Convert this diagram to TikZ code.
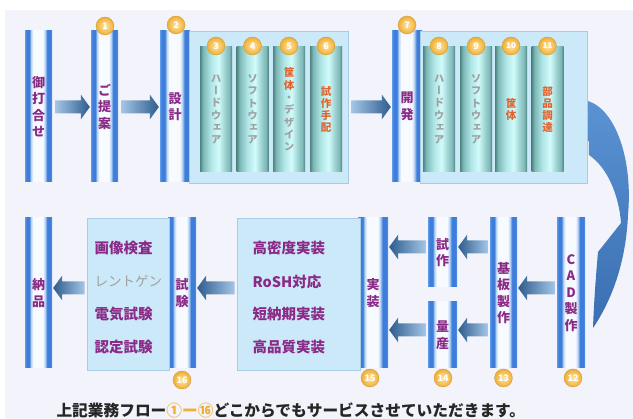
\documentclass[tikz,border=0pt]{standalone}
\usepackage{fontspec}
\setmainfont{Noto Sans CJK JP}
\newfontfamily\vjp[RawFeature=+vert]{Noto Sans CJK JP}
\usetikzlibrary{calc}

\definecolor{bgL}{HTML}{F3F4FB}
\definecolor{pbA}{HTML}{5C9AE8}
\definecolor{pbB}{HTML}{3F7DDA}
\definecolor{pbL}{HTML}{B4D3F6}
\definecolor{pw}{HTML}{F7FAFF}
\definecolor{cyD}{HTML}{4D8482}
\definecolor{cyM}{HTML}{7DB8B6}
\definecolor{cyN}{HTML}{B0E6E6}
\definecolor{cyL}{HTML}{D2FBFB}
\definecolor{cyK}{HTML}{9CD2D1}
\definecolor{boxF}{HTML}{CCE9F9}
\definecolor{boxD}{HTML}{A6CCE6}
\definecolor{tp}{HTML}{8A2A86}
\definecolor{tg}{HTML}{A0A0A0}
\definecolor{tr}{HTML}{E2632E}
\definecolor{orA}{HTML}{EFAE34}
\definecolor{orL}{HTML}{FFE6A8}
\definecolor{arL}{HTML}{A4C6E6}
\definecolor{arD}{HTML}{2E5C8E}
\definecolor{cvA}{HTML}{5A92D2}
\definecolor{cvB}{HTML}{3A6FB2}

\pgfdeclarehorizontalshading{pillarsh}{100bp}{color(0bp)=(pbA); color(25bp)=(pbA); color(28bp)=(pbB); color(33bp)=(pbB); color(36bp)=(pbL); color(40bp)=(pw); color(58bp)=(pw); color(62bp)=(pbL); color(66bp)=(pbB); color(72bp)=(pbB); color(75bp)=(pbA); color(100bp)=(pbA)}
\pgfdeclarehorizontalshading{cylsh}{100bp}{color(0bp)=(cyD); color(25bp)=(cyD); color(30bp)=(cyM); color(42bp)=(cyN); color(54bp)=(cyL); color(64bp)=(cyK); color(71bp)=(cyM); color(75bp)=(cyD); color(100bp)=(cyD)}

\tikzset{
  pillar/.style={shade, shading=pillarsh, inner sep=0pt, text=tp, align=center,
    font=\vjp\bfseries\fontsize{13}{16.5}\selectfont},
  cyl/.style={shade, shading=cylsh, inner sep=0pt, minimum width=32pt, minimum height=125pt,
    align=center, text=tg, font=\vjp\bfseries\fontsize{10.5}{12.3}\selectfont},
  bbox/.style={fill=boxF, draw=boxD, line width=0.8pt, inner sep=0pt},
  numc/.style={circle, inner sep=0pt, minimum size=18pt, inner color=orL, outer color=orA,
    draw=orA!85!black, line width=0.3pt, text=white, font=\bfseries\fontsize{9}{9}\selectfont},
  listt/.style={anchor=west, text=tp, font=\bfseries\fontsize{14.5}{14.5}\selectfont},
}

\newcommand\arrR[3]{%
  \path[left color=arL, right color=arD] let \p1=(#1.east), \p2=(#2.west), \p3=(0,#3) in
  (\x1+3pt,\y3+6.5pt) -- (\x2-10pt,\y3+6.5pt) -- (\x2-10pt,\y3+12.5pt) -- (\x2-1pt,\y3)
  -- (\x2-10pt,\y3-12.5pt) -- (\x2-10pt,\y3-6.5pt) -- (\x1+3pt,\y3-6.5pt) -- cycle;}
\newcommand\arrL[3]{%
  \path[left color=arD, right color=arL] let \p1=(#1.west), \p2=(#2.east), \p3=(0,#3) in
  (\x1-2pt,\y3+6.5pt) -- (\x2+10pt,\y3+6.5pt) -- (\x2+10pt,\y3+12.5pt) -- (\x2+1pt,\y3)
  -- (\x2+10pt,\y3-12.5pt) -- (\x2+10pt,\y3-6.5pt) -- (\x1-2pt,\y3-6.5pt) -- cycle;}

\begin{document}
\begin{tikzpicture}[x=1pt, y=-1pt]
\useasboundingbox (0,0) rectangle (633,419);
\fill[white] (0,0) rectangle (633,419);
\fill[bgL] (5,10) rectangle (633,419);

% ---------- top row ----------
\node[pillar, minimum width=27pt, minimum height=151pt] (p0) at (38.5,106.5) {御\\打\\合\\せ};
\node[pillar, minimum width=27pt, minimum height=151pt] (p1) at (104.5,106.5) {ご\\提\\案};
\node[pillar, minimum width=30pt, minimum height=151pt] (p2) at (175,106.5) {設\\計};
\node[bbox, minimum width=159pt, minimum height=152pt] (b1) at (268.5,107) {};
\node[cyl] (k3) at (216,109.5) {ハ\\ー\\ド\\ウ\\ェ\\ア};
\node[cyl] (k4) at (252.5,109.5) {ソ\\フ\\ト\\ウ\\ェ\\ア};
\node[cyl] (k5) at (289,109.5) {\textcolor{tr}{筐}\\\textcolor{tr}{体}\\・\\デ\\ザ\\イ\\ン};
\node[cyl, text=tr] (k6) at (326,109.5) {試\\作\\手\\配};

\node[pillar, minimum width=30pt, minimum height=151pt] (p7) at (407,106.5) {開\\発};
\node[bbox, minimum width=167pt, minimum height=152pt] (b2) at (503.5,107) {};
\node[cyl] (k8) at (439,109.5) {ハ\\ー\\ド\\ウ\\ェ\\ア};
\node[cyl] (k9) at (476,109.5) {ソ\\フ\\ト\\ウ\\ェ\\ア};
\node[cyl, text=tr] (k10) at (511,109.5) {筐\\体};
\node[cyl, text=tr] (k11) at (547.5,109.5) {部\\品\\調\\達};

\node[numc] (c1) at (105,26) {1};
\node[numc] (c2) at (176,25) {2};
\node[numc] (c3) at (216,46) {3};
\node[numc] (c4) at (252.5,46) {4};
\node[numc] (c5) at (289,46) {5};
\node[numc] (c6) at (326,46) {6};
\node[numc] (c7) at (407,25) {7};
\node[numc] (c8) at (439,46) {8};
\node[numc] (c9) at (476,46) {9};
\node[numc, font=\bfseries\fontsize{8}{8}\selectfont] (c10) at (511,46) {10};
\node[numc, font=\bfseries\fontsize{8}{8}\selectfont] (c11) at (547.5,46) {11};

\arrR{p0}{p1}{107}
\arrR{p1}{p2}{107}
\arrR{b1}{p7}{107}

% curved arrow
\shade[top color=cvA, bottom color=cvB]
  (588,101) .. controls (616,110) and (633,160) .. (628,215)
  .. controls (626,262) and (612,300) .. (593,328)
  .. controls (594,300) and (596,275) .. (598,252)
  -- (621,223)
  .. controls (619,196) and (608,168) .. (589,155) -- cycle;

% ---------- bottom row ----------
\node[pillar, minimum width=27pt, minimum height=150pt] (p17) at (38.5,293) {納\\品};
\node[pillar, minimum width=28pt, minimum height=150pt] (p16) at (182,293) {試\\験};
\node[bbox, minimum width=82pt, minimum height=152pt] (b3) at (128,294) {};
\node[pillar, minimum width=30pt, minimum height=150pt] (p15) at (373,293) {実\\装};
\node[bbox, minimum width=123pt, minimum height=152pt] (b4) at (298.5,294) {};
\node[pillar, minimum width=29pt, minimum height=69pt] (pt) at (442.5,252.5) {試\\作};
\node[pillar, minimum width=29pt, minimum height=66pt] (p14) at (442.5,335) {量\\産};
\node[pillar, minimum width=27pt, minimum height=150pt] (p13) at (503.5,293) {基\\板\\製\\作};
\node[pillar, minimum width=28pt, minimum height=150pt] (p12) at (571,293) {C\\A\\D\\製\\作};

\node[listt] (t1) at (91,248) {画像検査};
\node[listt, text=tg, font=\fontsize{13.5}{13.5}\selectfont] (t2) at (91,281) {レントゲン};
\node[listt] (t3) at (91,314) {電気試験};
\node[listt] (t4) at (91,347) {認定試験};

\node[listt] (s1) at (249,248) {高密度実装};
\node[listt] (s2) at (249,282) {RoSH対応};
\node[listt] (s3) at (249,314) {短納期実装};
\node[listt] (s4) at (249,347) {高品質実装};

\node[numc] (c12) at (573,378) {12};
\node[numc] (c13) at (503.5,378) {13};
\node[numc] (c14) at (443,378) {14};
\node[numc] (c15) at (370,378) {15};
\node[numc] (c16) at (182,380) {16};

\arrL{p12}{p13}{288}
\arrL{p13}{pt}{247}
\arrL{p13}{p14}{330}
\arrL{pt}{p15}{247}
\arrL{p14}{p15}{330}
\arrL{b4}{p16}{288}
\arrL{b3}{p17}{288}

\node[anchor=west, font=\bfseries\fontsize{15.7}{15.7}\selectfont, text=black!85] (foot) at (53,410)
  {上記業務フロー\textcolor{orA}{①ー⑯}どこからでもサービスさせていただきます。};
\end{tikzpicture}
\end{document}
